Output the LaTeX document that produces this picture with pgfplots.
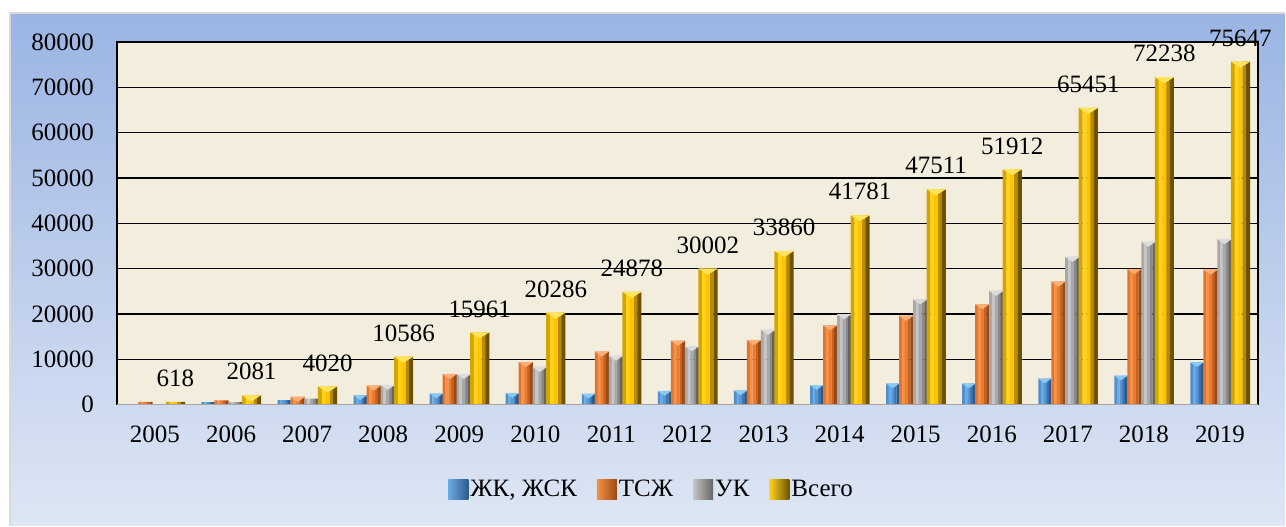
\documentclass[border=0pt]{standalone}
\usepackage{pgfplots}
\pgfplotsset{compat=1.18}
\usepackage{fontspec}
\setmainfont{Liberation Serif}
\usetikzlibrary{backgrounds}

\definecolor{bgbeige}{HTML}{F3EDDD}
\definecolor{frtop}{HTML}{9BB4E3}
\definecolor{frbot}{HTML}{DEE6F4}
% blue
\definecolor{b1}{HTML}{4F8FCC}
\definecolor{b2}{HTML}{69ABE4}
\definecolor{b3}{HTML}{5597D4}
\definecolor{b4}{HTML}{3F76B0}
\definecolor{b5}{HTML}{2D5A8A}
\definecolor{bc}{HTML}{8CC8F2}
% orange
\definecolor{o1}{HTML}{E07530}
\definecolor{o2}{HTML}{F59148}
\definecolor{o3}{HTML}{EB7B30}
\definecolor{o4}{HTML}{C9621F}
\definecolor{o5}{HTML}{9A4A14}
\definecolor{oc}{HTML}{FBAE76}
% grey
\definecolor{g1}{HTML}{A8A8A8}
\definecolor{g2}{HTML}{C6C6C6}
\definecolor{g3}{HTML}{A8A8A8}
\definecolor{g4}{HTML}{8A8A8A}
\definecolor{g5}{HTML}{646464}
\definecolor{gc}{HTML}{DCDCDC}
% gold
\definecolor{y1}{HTML}{D4A400}
\definecolor{y2}{HTML}{FFD21F}
\definecolor{y3}{HTML}{FFC400}
\definecolor{y4}{HTML}{B88A00}
\definecolor{y5}{HTML}{6E5200}
\definecolor{yc}{HTML}{FFE45C}

\pgfplotstableread{
x  zhk   tsj    uk     all
0  0     600    18     618
1  550   950    580    2081
2  1000  1700   1320   4020
3  2050  4200   4336   10586
4  2450  6750   6761   15961
5  2560  9400   8326   20286
6  2380  11720  10778  24878
7  3000  14100  12902  30002
8  3100  14250  16510  33860
9  4300  17520  19961  41781
10 4660  19600  23251  47511
11 4650  22150  25112  51912
12 5750  27120  32580  65451
13 6380  29920  35938  72238
14 9350  29770  36527  75647
}\data

\newcommand{\fs}{\fontsize{12.5}{14}\selectfont}
% one vertical strip of a bar: column, shift (pt), width (pt), colour
\newcommand{\strip}[4]{\addplot[draw=none, fill=#4, bar shift=#2pt, bar width=#3pt, forget plot] table[x=x, y=#1] {\data};}
% bevel cap on top of a bar: column, xshift, mark size, yscale, yshift, colour
\newcommand{\barcap}[6]{\addplot[only marks, mark=triangle*, forget plot, color=#6,
    restrict y to domain=1500:100000,
    mark options={solid, xshift=#2pt, yshift=-#5pt, rotate=180, yscale=#4, mark size=#3pt,
        fill=#6, draw=#6, line width=0.1pt}]
    table[x=x, y=#1] {\data};}

\begin{document}
\begin{tikzpicture}
\begin{axis}[
    scale only axis, width=571pt, height=181.5pt,
    xmin=-0.5, xmax=14.5, ymin=0, ymax=80000,
    ytick={0,10000,...,80000},
    xtick={0,...,14},
    xticklabels={2005,2006,2007,2008,2009,2010,2011,2012,2013,2014,2015,2016,2017,2018,2019},
    major tick length=0pt,
    ymajorgrids, grid style={black, line width=0.75pt},
    axis line style={black, line width=0.75pt},
    axis background/.style={fill=bgbeige},
    ybar,
    tick label style={font=\fs},
    /pgf/number format/assume math mode=true,
    /pgf/number format/1000 sep={},
    scaled y ticks=false,
    yticklabel style={xshift=-8pt},
    xticklabel style={yshift=-7pt},
    legend columns=-1,
    legend style={at={(axis description cs:0.4685,-0.234)}, anchor=center,
        draw=none, fill=none, font=\fs,
        nodes={inner xsep=1pt},
        /tikz/every even column/.append style={column sep=9pt}},
]
% ЖК, ЖСК
\strip{zhk}{-14.1}{1.4}{b1}
\strip{zhk}{-12.8}{1.4}{b2}
\strip{zhk}{-10.2}{1.4}{b4}
\strip{zhk}{-8.9}{1.4}{b5}
% ТСЖ
\strip{tsj}{-7.55}{1.5}{o1}
\strip{tsj}{-6.15}{1.5}{o2}
\strip{tsj}{-3.35}{1.5}{o4}
\strip{tsj}{-1.95}{1.5}{o5}
% УК
\strip{uk}{-0.55}{1.5}{g1}
\strip{uk}{0.85}{1.5}{g2}
\strip{uk}{3.65}{1.5}{g4}
\strip{uk}{5.05}{1.5}{g5}
% Всего
\strip{all}{6.45}{2.0}{y1}
\strip{all}{8.35}{2.0}{y2}
\strip{all}{12.15}{2.0}{y4}
\strip{all}{14.05}{2.0}{y5}
% caps
\barcap{zhk}{-11.5}{3.7}{0.4}{0.74}{bc}
\barcap{tsj}{-4.75}{4.0}{0.4}{0.8}{oc}
\barcap{uk}{2.25}{4.0}{0.4}{0.8}{gc}
\barcap{all}{10.25}{5.4}{0.36}{0.97}{yc}

\addplot[draw=none, fill=b3, bar shift=-11.5pt, bar width=1.4pt,
    legend image code/.code={\shade[left color=b2, right color=b5] (0pt,-5pt) rectangle (10pt,5pt);}]
    table[x=x, y=zhk] {\data};
\addlegendentry{ЖК, ЖСК}
\addplot[draw=none, fill=o3, bar shift=-4.75pt, bar width=1.5pt,
    legend image code/.code={\shade[left color=o2, right color=o5] (0pt,-5pt) rectangle (10pt,5pt);}]
    table[x=x, y=tsj] {\data};
\addlegendentry{ТСЖ}
\addplot[draw=none, fill=g3, bar shift=2.25pt, bar width=1.5pt,
    legend image code/.code={\shade[left color=g2, right color=g5] (0pt,-5pt) rectangle (10pt,5pt);}]
    table[x=x, y=uk] {\data};
\addlegendentry{УК}
\addplot[draw=none, fill=y3, bar shift=10.25pt, bar width=2.0pt,
    legend image code/.code={\shade[left color=y2, right color=y5] (0pt,-5pt) rectangle (10pt,5pt);},
    nodes near coords,
    nodes near coords style={font=\fs, text=black, yshift=4pt}]
    table[x=x, y=all] {\data};
\addlegendentry{Всего}
\draw[gray!70, line width=0.75pt] (axis cs:-0.5,0) -- (axis cs:14.5,0);
\end{axis}
\path (current axis.south west) coordinate (O);
\begin{scope}[on background layer]
\fill[white] ([shift={(-58.5pt,-60.5pt)}]O) rectangle ([shift={(584.5pt,202.5pt)}]O);
\shade[top color=frtop, bottom color=frbot] ([shift={(-53.5pt,-60.5pt)}]O) rectangle ([shift={(584.5pt,196pt)}]O);
\draw[gray!30, line width=1pt] ([shift={(-53.5pt,-60.5pt)}]O) -- ([shift={(-53.5pt,196pt)}]O) -- ([shift={(584.5pt,196pt)}]O);
\end{scope}
\end{tikzpicture}
\end{document}
